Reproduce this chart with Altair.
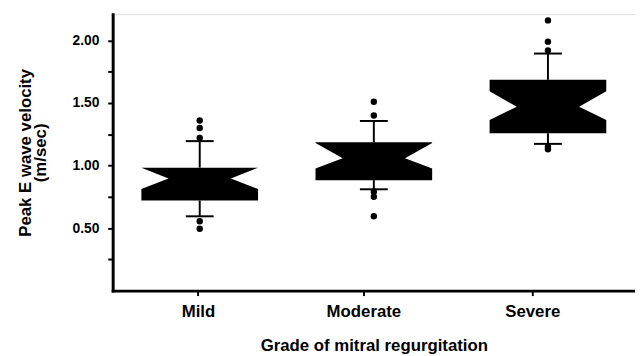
import altair as alt
import pandas as pd

# ---- data ----
categories = ["Mild", "Moderate", "Severe"]
q1 = [0.72, 0.883, 1.258]
notch_lo = [0.812, 0.976, 1.364]
median = [0.897, 1.059, 1.47]
notch_hi = [0.983, 1.18, 1.593]
q3 = [0.983, 1.185, 1.685]
whisker_lo = [0.594, 0.81, 1.173]
whisker_hi = [1.195, 1.356, 1.895]
outliers_mild = [1.36, 1.30, 1.22, 0.555, 0.495]
outliers_moderate = [1.51, 1.40, 0.79, 0.75, 0.594]
outliers_severe = [2.16, 1.99, 1.92, 1.15, 1.13]
y_ticks = [0.25, 0.5, 0.75, 1.0, 1.25, 1.5, 1.75, 2.0]
# the original places its category ticks slightly left of the box centres
category_tick_pos = [0.99, 1.94, 2.91]

# ---- style ----
HALF_W = 0.335     # half box width (x units)
NOTCH = 0.156      # notch depth
CAP = 0.08         # half whisker-cap width
FONT = "Liberation Sans"

outliers = [outliers_mild, outliers_moderate, outliers_severe]

box_rows, whisk_rows, cap_rows, pt_rows = [], [], [], []
for i, cat in enumerate(categories):
    c = i + 1
    pts = [(q1[i], 0), (notch_lo[i], 0), (median[i], NOTCH), (notch_hi[i], 0), (q3[i], 0)]
    for k, (v, d) in enumerate(pts):
        box_rows.append({"cat": cat, "k": k, "v": v, "xl": c - HALF_W + d, "xr": c + HALF_W - d})
    whisk_rows.append({"cat": cat, "x": c, "y": q3[i], "y2": whisker_hi[i]})
    whisk_rows.append({"cat": cat, "x": c, "y": q1[i], "y2": whisker_lo[i]})
    for w in (whisker_lo[i], whisker_hi[i]):
        cap_rows.append({"cat": cat, "xa": c - CAP, "xb": c + CAP, "y": w})
    for o in outliers[i]:
        pt_rows.append({"cat": cat, "x": c, "y": o})

box_df = pd.DataFrame(box_rows)
whisk_df = pd.DataFrame(whisk_rows)
cap_df = pd.DataFrame(cap_rows)
pt_df = pd.DataFrame(pt_rows)

xscale = alt.Scale(domain=[0.5, 3.5], nice=False, zero=False)
yscale = alt.Scale(domain=[0, 2.21], nice=False, zero=False)

x_axis = alt.Axis(
    title="Grade of mitral regurgitation",
    values=category_tick_pos,
    labelExpr=f"{categories}[round(datum.value) - 1]",
    grid=False, domainColor="black", domainWidth=3, domainCap="square",
    tickColor="black", tickWidth=2, tickSize=5,
    labelFont=FONT, labelFontSize=17, labelFontWeight="bold", labelColor="black",
    labelPadding=8, labelFlush=False,
    titleFont=FONT, titleFontSize=17, titleFontWeight="bold", titleColor="black",
    titlePadding=19,
)
y_axis = alt.Axis(
    title=["Peak E wave velocity", "(m/sec)"],
    values=y_ticks,
    labelExpr="datum.value % 0.5 == 0 ? format(datum.value, '.2f') : ''",
    grid=False, domainColor="black", domainWidth=3, domainCap="square",
    tickColor="black", tickWidth=2, tickSize=5,
    labelFont=FONT, labelFontSize=14, labelFontWeight="bold", labelColor="black",
    labelPadding=9,
    titleFont=FONT, titleFontSize=17, titleFontWeight="bold", titleColor="black",
    titlePadding=23, titleLineHeight=15,
)

boxes = alt.Chart(box_df).mark_area(orient="horizontal", color="black", opacity=1).encode(
    y=alt.Y("v:Q", scale=yscale, axis=y_axis),
    x=alt.X("xl:Q", scale=xscale, axis=x_axis, stack=None),
    x2="xr:Q",
    detail="cat:N",
)
whiskers = alt.Chart(whisk_df).mark_rule(color="black", strokeWidth=2).encode(
    x=alt.X("x:Q", scale=xscale, axis=x_axis),
    y=alt.Y("y:Q", scale=yscale, axis=y_axis),
    y2="y2:Q",
)
caps = alt.Chart(cap_df).mark_rule(color="black", strokeWidth=2).encode(
    x=alt.X("xa:Q", scale=xscale, axis=x_axis),
    x2="xb:Q",
    y=alt.Y("y:Q", scale=yscale, axis=y_axis),
)
points = alt.Chart(pt_df).mark_circle(color="black", size=42, opacity=1).encode(
    x=alt.X("x:Q", scale=xscale, axis=x_axis),
    y=alt.Y("y:Q", scale=yscale, axis=y_axis),
)

chart = alt.layer(boxes, whiskers, caps, points).properties(
    width=529, height=280,
    autosize=alt.AutoSizeParams(type="none"),
    padding={"left": 106, "top": 4, "right": 0, "bottom": 64},
).configure_view(stroke=None).configure(background="white")

chart.save("out.html", embed_options={"renderer": "svg", "actions": False})
